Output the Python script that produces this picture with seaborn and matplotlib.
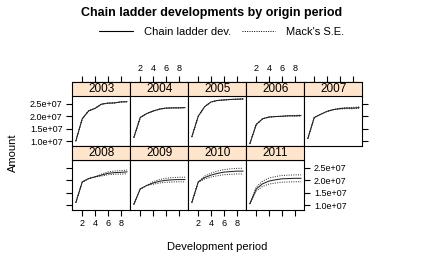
import numpy as np
import pandas as pd
import matplotlib
matplotlib.use('Agg')
import matplotlib.pyplot as plt
from matplotlib.patches import Rectangle
from matplotlib.lines import Line2D
from matplotlib.ticker import FuncFormatter
import seaborn as sns

# ---------------------------------------------------------
# data
# ---------------------------------------------------------
origins = [2003, 2004, 2005, 2006, 2007, 2008, 2009, 2010, 2011]
dev_periods = [1, 2, 3, 4, 5, 6, 7, 8, 9]

# chain ladder developments, one row per origin period
cl_dev = [
    [1.00e7, 1.90e7, 2.22e7, 2.32e7, 2.49e7, 2.53e7, 2.54e7, 2.58e7, 2.59e7],
    [1.14e7, 1.95e7, 2.11e7, 2.21e7, 2.29e7, 2.33e7, 2.34e7, 2.34e7, 2.35e7],
    [1.17e7, 2.00e7, 2.39e7, 2.58e7, 2.64e7, 2.66e7, 2.68e7, 2.69e7, 2.70e7],
    [0.89e7, 1.67e7, 1.90e7, 1.97e7, 1.99e7, 2.00e7, 2.02e7, 2.02e7, 2.03e7],
    [1.10e7, 1.95e7, 2.08e7, 2.20e7, 2.27e7, 2.31e7, 2.33e7, 2.33e7, 2.35e7],
    [1.10e7, 1.93e7, 2.07e7, 2.14e7, 2.21e7, 2.28e7, 2.31e7, 2.32e7, 2.34e7],
    [1.03e7, 1.65e7, 1.79e7, 1.89e7, 1.96e7, 2.00e7, 2.02e7, 2.03e7, 2.03e7],
    [1.10e7, 1.93e7, 2.11e7, 2.21e7, 2.28e7, 2.33e7, 2.35e7, 2.37e7, 2.37e7],
    [1.05e7, 1.65e7, 1.86e7, 1.97e7, 2.02e7, 2.06e7, 2.07e7, 2.08e7, 2.08e7],
]

# Mack's standard errors
mack_se = [
    [0, 0, 0, 0, 0, 0, 0, 0, 0],
    [0, 0, 0, 0, 0, 0, 0, 0, 0.10e6],
    [0, 0, 0, 0, 0, 0, 0, 0.10e6, 0.15e6],
    [0, 0, 0, 0, 0, 0, 0.10e6, 0.15e6, 0.20e6],
    [0, 0, 0, 0, 0, 0.15e6, 0.20e6, 0.25e6, 0.30e6],
    [0, 0, 0, 0, 0.40e6, 0.55e6, 0.65e6, 0.70e6, 0.75e6],
    [0, 0, 0, 0.50e6, 0.70e6, 0.80e6, 0.88e6, 0.92e6, 0.95e6],
    [0, 0, 0.60e6, 0.80e6, 0.95e6, 1.05e6, 1.10e6, 1.12e6, 1.15e6],
    [0, 0.80e6, 1.05e6, 1.20e6, 1.30e6, 1.35e6, 1.38e6, 1.40e6, 1.40e6],
]

x_ticks = [2, 4, 6, 8]
y_ticks = [1.0e7, 1.5e7, 2.0e7, 2.5e7]

STRIP_COLOR = '#FFE5CC'
W, H = 425, 262

rows = []
for o, cl, se in zip(origins, cl_dev, mack_se):
    for d, v, s in zip(dev_periods, cl, se):
        rows.append(dict(origin=o, dev=d, cl=v, upper=v + s, lower=v - s))
df = pd.DataFrame(rows)

# ---------------------------------------------------------
# plot
# ---------------------------------------------------------
sns.set_style("white")
plt.rcParams['font.family'] = ['Liberation Sans', 'DejaVu Sans']
plt.rcParams['text.color'] = 'black'

fig = plt.figure(figsize=(W / 100, H / 100), dpi=100)

pw, ph, strip_h = 58, 50, 14
dot = (0, (1, 1.4))
for i, o in enumerate(origins):
    r, c = divmod(i, 5)
    x0 = 72.3 + c * pw
    y0 = 96 + r * (ph + strip_h)
    ax = fig.add_axes([x0 / W, 1 - (y0 + ph) / H, pw / W, ph / H])
    sub = df[df['origin'] == o]

    sns.lineplot(data=sub, x='dev', y='cl', ax=ax, color='#222222', lw=0.75,
                 errorbar=None)
    for col in ['upper', 'lower']:
        sns.lineplot(data=sub, x='dev', y=col, ax=ax, color='#222222', lw=0.7,
                     linestyle=dot, errorbar=None)

    ax.set_xlim(0.45, 9.5)
    ax.set_ylim(8.0e6, 2.82e7)
    ax.set_xlabel('')
    ax.set_ylabel('')
    ax.set_xticks(x_ticks)
    ax.set_yticks(y_ticks)
    ax.yaxis.set_major_formatter(FuncFormatter(lambda v, p: f"{v:.1e}"))

    for sp in ax.spines.values():
        sp.set_color('black')
        sp.set_linewidth(0.8)
    if r == 0:
        # top axis sits above the strip, like lattice
        ax.spines['top'].set_position(('outward', strip_h * 0.72))

    ax.tick_params(axis='x', direction='out', length=4, width=0.8,
                   top=(r == 0), bottom=(r == 1),
                   labeltop=(r == 0 and c in (1, 3)),
                   labelbottom=(r == 1 and c in (0, 2)),
                   labelsize=6.5, pad=2.5, colors='black')
    ax.tick_params(axis='y', direction='out', length=4, width=0.8,
                   left=(c == 0), right=(i in (4, 8)),
                   labelleft=(i == 0), labelright=(i == 8),
                   labelsize=6.5, pad=3, colors='black')

    # strip with the origin period
    ax.add_patch(Rectangle((0, 1), 1, strip_h / ph, transform=ax.transAxes,
                           clip_on=False, facecolor=STRIP_COLOR,
                           edgecolor='black', lw=0.8, zorder=3))
    ax.text(0.5, 1 + strip_h / ph / 2, str(o), transform=ax.transAxes,
            ha='center', va='center', fontsize=8.5, color='black', zorder=4)

fig.text(212 / W, 1 - 13 / H, 'Chain ladder developments by origin period',
         ha='center', va='center', fontsize=9, fontweight='bold', color='black')
fig.text(13 / W, 1 - 153 / H, 'Amount', rotation=90, ha='center',
         va='center', fontsize=8, color='black')
fig.text(217 / W, 1 - 246.5 / H, 'Development period', ha='center',
         va='center', fontsize=8, color='black')

handles = [Line2D([], [], color='black', lw=0.8),
           Line2D([], [], color='black', lw=0.7, linestyle=dot)]
fig.legend(handles, ["Chain ladder dev.", "Mack's S.E."], loc='center',
           bbox_to_anchor=(222 / W, 1 - 32 / H), ncol=2, frameon=False,
           fontsize=8, handlelength=3, handletextpad=1, columnspacing=1,
           labelcolor='black')

fig.savefig('out.png', dpi=100)
